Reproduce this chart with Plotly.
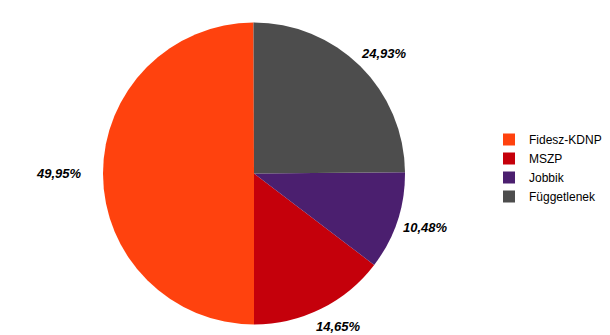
import math
import plotly.graph_objects as go

labels = ["Fidesz-KDNP", "MSZP", "Jobbik", "Függetlenek"]
values = [49.95, 14.65, 10.48, 24.93]
value_text = ["49,95%", "14,65%", "10,48%", "24,93%"]
colors = ["#FF420E", "#C5000B", "#4B1F6F", "#4D4D4D"]

W, H = 610, 335
cx, cy, R = 254, 173.5, 151  # pixel centre (from top) and radius

fig = go.Figure(go.Pie(
    labels=labels, values=values, sort=False, direction="counterclockwise",
    rotation=180, textinfo="none", hoverinfo="label+percent",
    marker=dict(colors=colors, line=dict(width=0)),
    domain=dict(x=[(cx - R) / W, (cx + R) / W],
                y=[(H - cy - R) / H, (H - cy + R) / H]),
))

# outside value labels, positioned from the slice mid-angles
total = sum(values)
cum = 0.0
annotations = []
for v, t in zip(values, value_text):
    mid = (cum + v / 2) / total * 2 * math.pi  # counterclockwise from 12 o'clock
    cum += v
    dx = -math.sin(mid)
    dy = -math.cos(mid)  # screen y grows downward
    d = 170
    px = cx + d * dx
    py = cy + d * dy
    if dx < -0.99:
        xanchor = "right"
    else:
        xanchor = "center"
        px += 10 * (1 if dx > 0 else -1)
    annotations.append(dict(
        x=px / W, y=(H - py) / H, xref="paper", yref="paper",
        text=f"<b><i>{t}</i></b>", showarrow=False,
        xanchor=xanchor, yanchor="middle",
        font=dict(family="Liberation Sans, Arial, sans-serif", size=13, color="#000000"),
    ))

fig.update_layout(
    width=W, height=H, autosize=False,
    margin=dict(l=0, r=0, t=0, b=0),
    paper_bgcolor="white", plot_bgcolor="white",
    annotations=annotations,
    showlegend=True,
    legend=dict(
        x=489 / W, y=(H - 125) / H, xanchor="left", yanchor="top",
        font=dict(family="Liberation Sans, Arial, sans-serif", size=12, color="#000000"),
        bgcolor="rgba(0,0,0,0)", tracegroupgap=0,
    ),
)

fig.write_html("out.html")
